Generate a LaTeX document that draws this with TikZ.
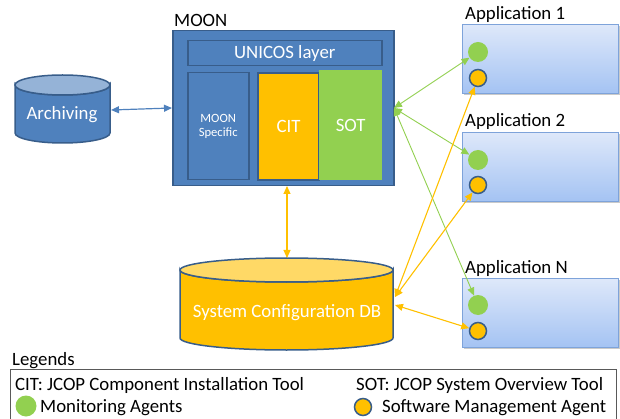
\documentclass[tikz,border=0pt]{standalone}
\usepackage{fontspec}
\setmainfont{Carlito}
\usetikzlibrary{arrows.meta,shadows}
\definecolor{blueFill}{HTML}{4F81BD}
\definecolor{blueDark}{HTML}{385D8A}
\definecolor{blueLight}{HTML}{95B3D7}
\definecolor{orangeFill}{HTML}{FFC000}
\definecolor{orangeLight}{HTML}{FFD966}
\definecolor{greenFill}{HTML}{92D050}
\definecolor{appTop}{HTML}{DEE8FA}
\definecolor{appBottom}{HTML}{A4C3F3}
\definecolor{appBorder}{HTML}{7EA3DA}
\definecolor{legendGray}{HTML}{595959}
\begin{document}
\begin{tikzpicture}[x=1pt,y=-1pt,
  big/.style={font=\fontsize{18.8}{22}\selectfont},
  lbl/.style={big, inner sep=0pt, anchor=base west},
  wlbl/.style={big, text=white, inner sep=0pt, anchor=base},
  box/.style={rectangle, anchor=north west, inner sep=0pt},
  appbox/.style={box, draw=appBorder, line width=1pt, top color=appTop, bottom color=appBottom,
     minimum width=156, minimum height=69,
     drop shadow={shadow xshift=1.5pt, shadow yshift=-1.5pt, opacity=0.35, fill=black!60}},
  gdot/.style={circle, fill=greenFill, minimum size=20, inner sep=0pt},
  odot/.style={circle, fill=orangeFill, draw=blueDark, line width=1.5pt, minimum size=17, inner sep=0pt},
  tip/.style={{Triangle[length=8pt,width=7pt]}-{Triangle[length=8pt,width=7pt]}},
  gline/.style={tip, draw=greenFill, line width=0.9pt},
  oline/.style={tip, draw=orangeFill, line width=1.1pt},
  bline/.style={tip, draw=blueFill, line width=1.2pt},
]
\useasboundingbox (0,0) rectangle (620,419);
\clip (0,0) rectangle (620,419);

% ---------------- MOON -----------------
\node[lbl] (moonlbl) at (174,27) {MOON};
\node[box, draw=blueDark, fill=blueFill, line width=1.5pt, minimum width=221, minimum height=155] (moon) at (172,30) {};
\node[box, draw=blueDark, fill=blueFill, line width=1.5pt, minimum width=194, minimum height=25,
      big, text=white] (unicos) at (187,40) {UNICOS layer};
\node[box, draw=blueDark, fill=blueFill, line width=1.5pt, minimum width=61, minimum height=107,
      text=white, align=center, font=\fontsize{12.6}{14}\selectfont] (spec) at (187,72) {MOON\\Specific};
\node[box, draw=blueDark, fill=orangeFill, line width=2pt, minimum width=61, minimum height=107,
      big, text=white] (cit) at (257,72) {CIT};
\node[box, fill=greenFill, minimum width=63, minimum height=110, big, text=white] (sot) at (319,70) {SOT};

% ---------------- Archiving cylinder -----------------
\filldraw[fill=blueFill, draw=blueDark, line width=1.5pt]
  (15,85) -- (15,133) arc[start angle=180, end angle=0, x radius=47.5, y radius=10]
  -- (110,85) arc[start angle=0, end angle=180, x radius=47.5, y radius=10] -- cycle;
\filldraw[fill=blueLight, draw=blueDark, line width=1.5pt] (62.5,85) ellipse[x radius=47.5, y radius=10];
\node[wlbl] (arch) at (62,120) {Archiving};

% ---------------- DB cylinder -----------------
\filldraw[fill=orangeFill, draw=blueDark, line width=1.5pt]
  (180,270) -- (180,338) arc[start angle=180, end angle=0, x radius=106.5, y radius=12]
  -- (393,270) arc[start angle=0, end angle=180, x radius=106.5, y radius=12] -- cycle;
\filldraw[fill=orangeLight, draw=blueDark, line width=1.5pt] (286.5,270) ellipse[x radius=106.5, y radius=12];
\node[wlbl] (db) at (287,317) {System Configuration DB};

% ---------------- Applications -----------------
\node[lbl] (a1lbl) at (465,20) {Application 1};
\node[appbox] (app1) at (462,24) {};
\node[gdot] (g1) at (478,52) {};
\node[odot] (o1) at (478,78) {};

\node[lbl] (a2lbl) at (465,127) {Application 2};
\node[appbox] (app2) at (462,132) {};
\node[gdot] (g2) at (478,160) {};
\node[odot] (o2) at (478,185) {};

\node[lbl] (anlbl) at (465,273) {Application N};
\node[appbox] (appn) at (462,278) {};
\node[gdot] (gn) at (478,305) {};
\node[odot] (on) at (478,331) {};

% ---------------- ports -----------------
\coordinate (archE) at (111,110);
\coordinate (moonW) at (172,108);
\coordinate (sotport) at (394,108);
\coordinate (citport) at (287,186);
\coordinate (dbtop) at (287,258);
\coordinate (dbport1) at (395,297);
\coordinate (dbport2) at (395,305);

% ---------------- connectors -----------------
\draw[bline] (archE) -- (moonW);
\draw[oline] (citport) -- (dbtop);
\draw[gline] (sotport) -- (g1);
\draw[gline] (sotport) -- (g2);
\draw[gline] (sotport) -- (gn);
\draw[oline] (dbport1) -- (o1);
\draw[oline] (dbport1) -- (o2);
\draw[oline] (dbport2) -- (on);

% ---------------- Legend -----------------
\node[lbl] (leglbl) at (12,365) {Legends};
\node[box, draw=legendGray, line width=1pt, minimum width=606, minimum height=70] (legend) at (10,369) {};
\node[lbl] (citdef) at (15,390) {CIT: JCOP Component Installation Tool};
\node[lbl] (sotdef) at (356,390) {SOT: JCOP System Overview Tool};
\node[gdot, minimum size=21] (lg) at (26,406) {};
\node[lbl] (lgt) at (40,412) {Monitoring Agents};
\node[odot] (lo) at (363,407) {};
\node[lbl] (lot) at (382,412) {Software Management Agent};
\end{tikzpicture}
\end{document}
